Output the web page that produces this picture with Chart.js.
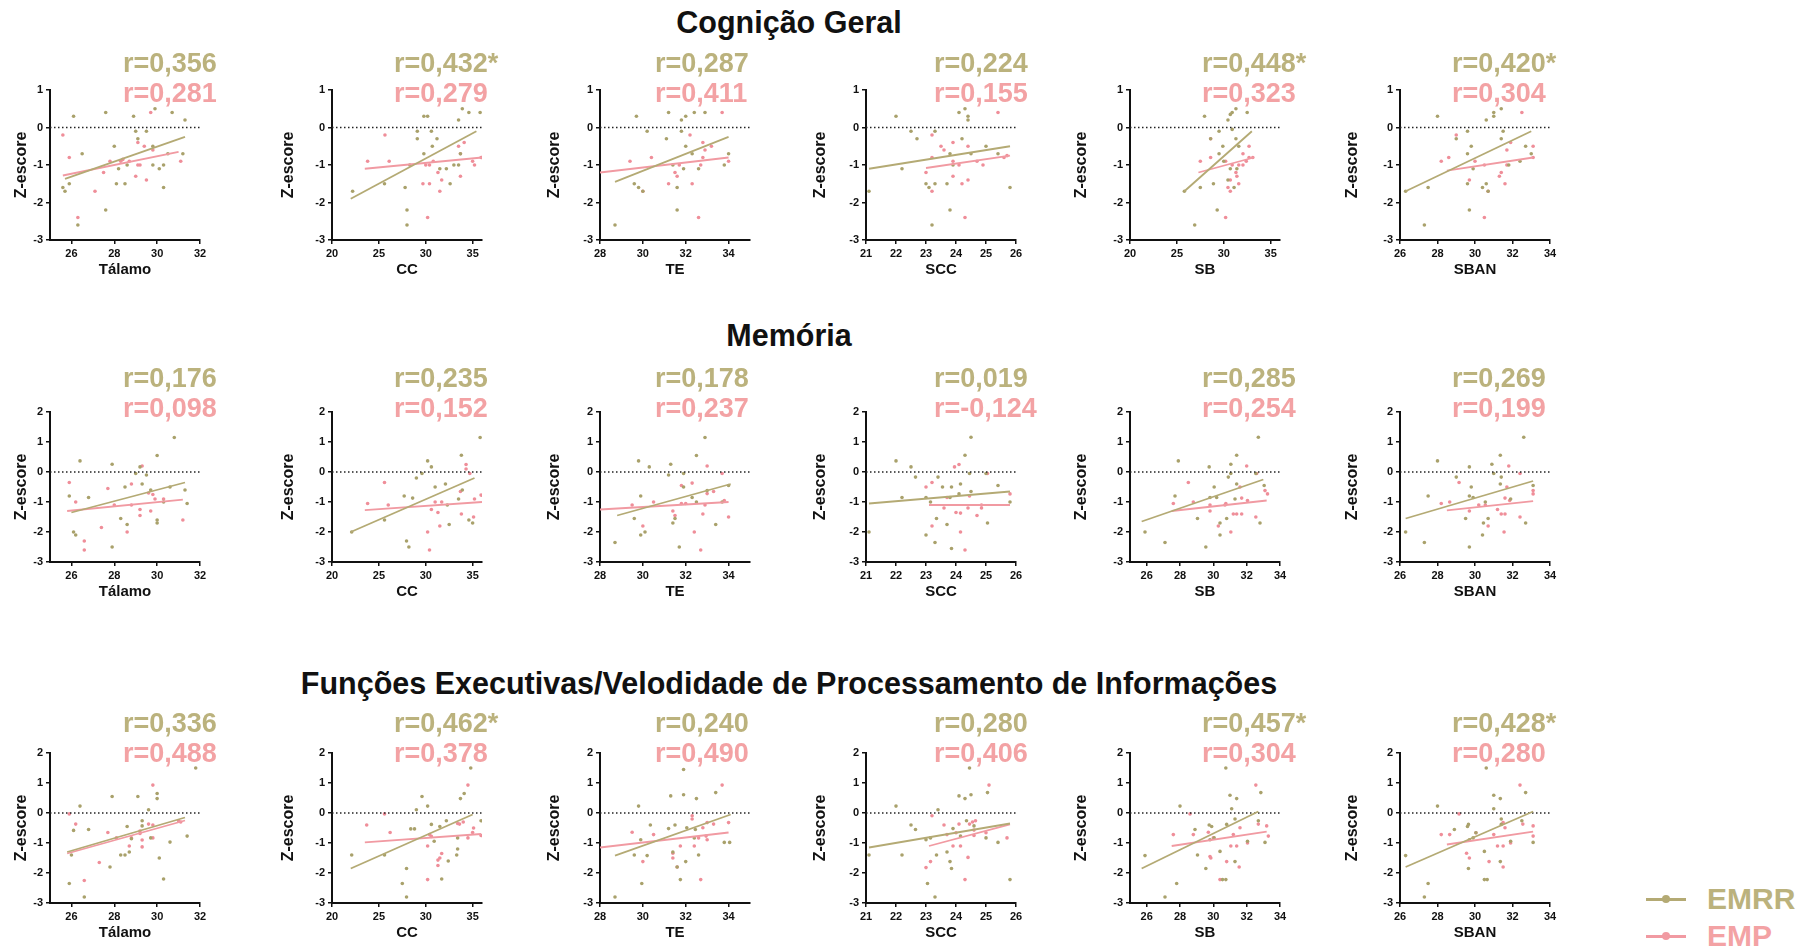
<!DOCTYPE html>
<html>
<head>
<meta charset="utf-8">
<script src="https://cdn.jsdelivr.net/npm/chart.js@4.4.0/dist/chart.umd.min.js"></script>
<style>
body { margin: 0; background: #fff; width: 1811px; height: 947px; position: relative; overflow: hidden;
       font-family: "Liberation Sans", Arial, sans-serif; }
canvas { position: absolute; }
.row-title { position: absolute; left: 0; width: 1578px; text-align: center; font-weight: bold;
             font-size: 30.5px; line-height: 32px; color: #111; }
.leg { position: absolute; left: 1646px; height: 36px; display: flex; align-items: center; }
.leg .mk { position: relative; width: 40px; height: 3px; margin-right: 21px; }
.leg .mk::after { content: ""; position: absolute; left: 16px; top: -2.5px; width: 8px; height: 8px;
                  border-radius: 50%; background: inherit; }
.leg .txt { font-size: 30px; line-height: 36px; font-weight: bold; }
</style>
</head>
<body>
<div class="row-title" style="top:6px">Cognição Geral</div>
<div class="row-title" style="top:319px">Memória</div>
<div class="row-title" style="top:667px">Funções Executivas/Velodidade de Processamento de Informações</div>

<div class="leg" style="top:881px"><span class="mk" style="background:#b4aa74"></span><span class="txt" style="color:#bbb27d">EMRR</span></div>
<div class="leg" style="top:918px"><span class="mk" style="background:#f19aa2"></span><span class="txt" style="color:#f3a2a4">EMP</span></div>

<script>
// ---- data ----
const regions = ['Tálamo', 'CC', 'TE', 'SCC', 'SB', 'SBAN'];

const xMin = [[25, 20, 28, 21, 20, 26], [25, 20, 28, 21, 25, 26], [25, 20, 28, 21, 25, 26]];
const xMax = [[32, 36, 35, 26, 36, 34], [32, 36, 35, 26, 34, 34], [32, 36, 35, 26, 34, 34]];
const xTicks = [
  [[26, 28, 30, 32], [20, 25, 30, 35], [28, 30, 32, 34], [21, 22, 23, 24, 25, 26], [20, 25, 30, 35], [26, 28, 30, 32, 34]],
  [[26, 28, 30, 32], [20, 25, 30, 35], [28, 30, 32, 34], [21, 22, 23, 24, 25, 26], [26, 28, 30, 32, 34], [26, 28, 30, 32, 34]],
  [[26, 28, 30, 32], [20, 25, 30, 35], [28, 30, 32, 34], [21, 22, 23, 24, 25, 26], [26, 28, 30, 32, 34], [26, 28, 30, 32, 34]]
];
const yTicks = [[-3, -2, -1, 0, 1], [-3, -2, -1, 0, 1, 2], [-3, -2, -1, 0, 1, 2]];

const rEMRR = [
  ['r=0,356', 'r=0,432*', 'r=0,287', 'r=0,224', 'r=0,448*', 'r=0,420*'],
  ['r=0,176', 'r=0,235', 'r=0,178', 'r=0,019', 'r=0,285', 'r=0,269'],
  ['r=0,336', 'r=0,462*', 'r=0,240', 'r=0,280', 'r=0,457*', 'r=0,428*']
];
const rEMP = [
  ['r=0,281', 'r=0,279', 'r=0,411', 'r=0,155', 'r=0,323', 'r=0,304'],
  ['r=0,098', 'r=0,152', 'r=0,237', 'r=-0,124', 'r=0,254', 'r=0,199'],
  ['r=0,488', 'r=0,378', 'r=0,490', 'r=0,406', 'r=0,304', 'r=0,280']
];

// regression lines: [x0, y0, x1, y1]
const fitEMRR = [
  [[25.7, -1.37, 31.3, -0.25], [22, -1.9, 35.4, -0.1], [28.7, -1.45, 34, -0.25], [21.1, -1.1, 25.8, -0.5], [25.8, -1.7, 33, -0.1], [26.3, -1.7, 33, -0.1]],
  [[26, -1.35, 31.3, -0.35], [22, -2, 35.2, -0.2], [28.8, -1.45, 34.1, -0.4], [21.1, -1.05, 25.8, -0.65], [25.7, -1.65, 33, -0.25], [26.3, -1.55, 33.1, -0.3]],
  [[25.8, -1.3, 31.3, -0.15], [22, -1.85, 35, -0.05], [28.7, -1.42, 34.1, -0.05], [21.1, -1.15, 25.8, -0.35], [25.7, -1.85, 32.7, 0.05], [26.3, -1.8, 33.1, 0.05]]
];
const fitEMP = [
  [[25.6, -1.28, 31, -0.65], [23.5, -1.1, 36, -0.8], [28, -1.2, 34, -0.8], [23, -1.08, 25.8, -0.75], [27.3, -1.2, 33.2, -0.8], [28.5, -1.15, 33.1, -0.8]],
  [[25.8, -1.3, 31.2, -0.92], [23.5, -1.27, 36, -1], [28, -1.25, 34, -1], [23.1, -1.1, 25.8, -1.1], [27.5, -1.3, 33.2, -0.95], [28.5, -1.28, 33.1, -0.97]],
  [[25.8, -1.35, 31.3, -0.25], [23.5, -0.98, 35.9, -0.7], [28, -1.15, 34, -0.65], [23.1, -1.1, 25.8, -0.38], [27.5, -1.1, 33.2, -0.62], [28.5, -1.05, 33.1, -0.62]]
];

// Cognição Geral
const cogEMRR = [
  [[26.1,0.3],[27.6,0.4],[28.9,0.3],[29.9,0.5],[30.7,0.4],[31.3,0.2],[29.0,-0.1],[29.5,-0.1],[29.1,-0.3],[28.0,-0.5],[26.5,-0.7],[29.8,-0.5],[30.5,-0.7],[31.2,-0.7],[25.6,-1.6],[25.7,-1.7],[25.9,-1.5],[28.2,-1.1],[28.6,-1.0],[28.1,-1.5],[28.5,-1.5],[27.6,-2.2],[26.3,-2.6],[30.1,-1.1],[29.8,-1.0],[30.3,-1.0],[30.3,-1.6]],
  [[22.2,-1.7],[25.6,-1.5],[29.8,0.3],[30.2,0.3],[29.1,-0.1],[29.1,-0.3],[30.6,-0.1],[30.7,-0.5],[31.2,-0.3],[33.5,0.2],[33.9,0.5],[34.6,0.4],[35.8,0.4],[28.3,-1.0],[27.8,-1.6],[28.0,-2.2],[28.0,-2.6],[29.8,-0.7],[32.2,-1.1],[32.6,-1.5],[33.5,-1.0],[33.0,-1.0],[31.5,-1.1],[33.7,-0.7]],
  [[29.7,0.3],[30.2,-0.1],[31.2,0.4],[31.1,-0.3],[31.8,0.2],[31.8,-0.1],[32.4,0.4],[32.9,0.4],[32.0,-0.5],[32.3,-0.7],[32.6,-1.1],[31.9,-1.1],[31.4,-1.0],[29.6,-1.5],[29.8,-1.6],[30.0,-1.7],[31.6,-1.6],[31.6,-2.2],[28.7,-2.6],[34.0,-0.7],[33.8,-1.0],[32.0,0.3]],
  [[21.1,-1.7],[22.0,0.3],[22.5,-0.1],[22.7,-0.3],[22.2,-1.1],[23.0,-1.5],[23.1,-1.6],[23.3,-1.5],[23.2,-2.6],[23.3,-0.1],[23.7,-1.5],[23.8,-0.7],[23.9,-1.0],[23.8,-2.2],[24.1,0.4],[24.3,0.5],[24.4,0.3],[24.4,0.2],[24.2,-0.3],[24.5,-0.7],[25.0,-0.5],[25.8,-1.6],[25.4,-0.7]],
  [[27.95,0.3],[30.45,0.2],[30.7,0.35],[30.9,0.4],[31.3,0.5],[32.5,0.4],[29.5,-0.1],[30.9,-0.05],[28.6,-0.3],[29.9,-0.5],[31.3,-0.3],[31.6,-0.5],[29.5,-0.7],[30.0,-0.9],[30.7,-1.1],[28.9,-1.5],[27.5,-1.6],[25.8,-1.7],[29.3,-2.2],[26.9,-2.6],[31.4,-1.1],[30.45,-1.4],[31.1,-1.6]],
  [[26.3,-1.7],[27.5,-1.6],[27.3,-2.6],[28.0,0.3],[29.0,-0.3],[29.6,-0.1],[29.8,-0.5],[29.6,-0.7],[29.9,-1.1],[29.6,-1.5],[29.7,-2.2],[30.6,0.2],[31.0,0.3],[31.0,0.4],[31.4,0.5],[31.5,-0.1],[31.4,-0.3],[30.6,-1.5],[30.4,-1.6],[30.7,-1.7],[31.8,-1.0],[32.4,-0.9],[32.7,-0.5],[33.0,-0.7]]
];
const cogEMP = [
  [[25.6,-0.2],[25.9,-0.8],[27.1,-1.7],[26.3,-2.4],[27.5,-1.2],[27.8,-0.9],[28.3,-0.9],[29.1,-0.4],[29.1,-1.0],[29.0,-1.3],[29.5,-1.4],[29.8,-0.6],[29.4,-0.5],[29.7,0.4],[31.1,-0.9],[28.7,-0.9],[29.2,-1.0],[28.4,-0.85]],
  [[23.8,-0.9],[25.65,-0.2],[26.1,-0.9],[30.0,-1.0],[30.4,-1.0],[30.4,-1.5],[31.3,-1.2],[31.5,-1.7],[31.7,-1.4],[30.2,-2.4],[33.5,-0.5],[33.7,-0.7],[33.7,-1.3],[35.0,-0.9],[35.2,-1.0],[35.9,-0.8],[34.1,-0.4],[30.8,-0.9],[29.7,-1.5]],
  [[29.4,-0.9],[30.4,-0.8],[32.2,-0.2],[32.8,-0.4],[32.9,-0.6],[32.8,-0.8],[33.2,-0.5],[32.7,-1.0],[31.5,-1.2],[31.6,-1.3],[31.2,-1.5],[32.3,-1.5],[32.6,-2.4],[33.7,0.4],[34.0,-0.9],[30.0,-1.7],[31.7,-1.0]],
  [[23.2,-0.2],[23.5,-0.5],[23.6,-0.6],[23.0,-1.2],[23.2,-0.8],[23.2,-1.7],[23.9,-0.4],[23.9,-0.9],[24.1,-1.0],[23.9,-1.3],[24.2,-1.5],[24.4,-1.4],[24.3,-2.4],[24.4,-0.5],[24.7,-0.9],[24.9,-1.0],[25.4,0.4],[25.6,-0.8],[25.7,-0.75]],
  [[28.6,-0.3],[27.5,-0.9],[28.6,-0.8],[30.2,-0.9],[30.9,-1.0],[31.6,-1.0],[30.7,-1.4],[31.6,-1.5],[30.45,-1.6],[30.7,-1.7],[31.4,-1.3],[32.05,-0.7],[32.4,-0.9],[32.7,-0.5],[32.7,-0.8],[33.1,-0.8],[30.2,-2.4],[32.05,-1.0],[31.3,-1.2]],
  [[28.2,-0.9],[28.6,-0.8],[29.0,-0.2],[30.0,-0.9],[29.7,-1.4],[30.5,-1.0],[30.7,-1.7],[30.5,-2.4],[31.4,-1.2],[31.3,-1.3],[31.6,-1.5],[31.7,-1.0],[31.9,-0.4],[32.5,0.4],[33.1,-0.5],[33.1,-0.8],[31.7,-0.6]]
];

// Memória
const memEMRR = [
  [[25.9,-0.8],[26.1,-2.0],[26.2,-2.1],[26.4,0.37],[26.8,-0.85],[27.9,0.26],[28.3,-1.55],[27.9,-2.5],[28.5,-0.5],[28.6,-1.75],[29.0,-0.05],[29.2,0.17],[29.3,-0.4],[29.5,-0.1],[30.0,0.55],[29.7,-0.6],[30.0,-1.6],[30.0,-1.7],[30.3,-1.0],[30.8,1.15],[30.6,-0.5],[31.3,-0.6],[31.4,-1.05]],
  [[22.1,-2.0],[25.6,-1.6],[27.7,-0.8],[27.95,-2.3],[28.2,-2.5],[28.6,-0.87],[29.0,-0.2],[29.6,-0.05],[30.2,0.37],[30.6,0.17],[31.0,-0.5],[32.1,-0.4],[32.3,-1.1],[32.5,-1.75],[33.8,0.56],[33.9,-0.6],[34.6,-1.6],[35.0,-1.7],[35.8,1.15],[33.5,-0.9]],
  [[28.7,-2.35],[29.8,0.37],[29.9,-0.8],[29.9,-2.1],[30.1,-2.0],[30.3,0.17],[29.6,-1.55],[31.2,-0.1],[31.3,0.26],[31.4,-1.7],[31.5,-1.55],[31.7,-2.5],[31.9,-0.05],[31.9,-0.5],[32.5,0.55],[32.9,1.15],[32.3,-0.85],[32.5,-1.0],[33.0,-0.62],[33.4,-1.75],[34.0,-0.45],[33.7,-1.0]],
  [[21.1,-2.0],[22.0,0.37],[22.2,-0.85],[22.5,0.17],[22.65,-0.17],[23.0,-0.85],[23.0,-2.1],[23.15,-1.0],[23.3,-2.35],[23.35,-1.55],[23.4,-0.17],[23.55,-0.5],[23.7,-1.75],[23.8,-0.85],[23.85,-0.5],[23.85,-2.55],[24.3,0.56],[24.1,-0.73],[24.15,-0.4],[24.5,1.16],[24.45,-0.05],[24.5,-0.65],[25.0,-0.05],[25.05,-1.7],[25.4,-0.45],[25.8,-1.0]],
  [[25.9,-2.0],[27.1,-2.35],[27.9,0.37],[27.7,-0.8],[29.05,-1.55],[29.55,-2.5],[29.75,0.17],[29.8,-0.85],[30.05,-0.5],[30.2,-0.85],[30.4,-1.7],[30.4,-2.1],[30.8,-1.55],[30.9,-0.17],[31.05,0.26],[31.05,-0.05],[31.4,0.56],[31.4,-0.4],[32.7,1.16],[32.55,-0.05],[32.8,-1.7],[33.05,-0.45],[31.3,-0.9]],
  [[26.3,-2.0],[27.3,-2.35],[27.5,-0.8],[28.0,0.37],[29.0,-0.17],[29.5,-1.55],[29.7,0.17],[29.7,-2.5],[29.7,-0.8],[29.8,-0.5],[29.9,-0.85],[30.4,-2.1],[30.45,-1.7],[30.55,-1.0],[30.7,-1.55],[30.9,0.26],[31.0,-0.05],[31.35,0.56],[31.4,-0.17],[31.35,-0.4],[32.6,1.16],[32.7,-1.7],[33.1,-0.45],[31.9,-0.9]]
];
const memEMP = [
  [[25.9,-0.35],[26.2,-1.0],[26.6,-2.3],[26.6,-2.6],[27.4,-1.85],[27.7,-0.55],[28.0,-1.1],[28.6,-2.0],[28.8,-1.1],[29.2,-1.25],[29.2,-1.45],[29.3,0.2],[29.6,-0.7],[29.7,-1.3],[29.8,-0.75],[29.9,-0.9],[30.3,-0.9],[31.2,-1.6],[28.8,-0.4]],
  [[23.8,-1.05],[25.6,-0.35],[26.0,-1.1],[30.2,-2.0],[30.4,-2.6],[30.6,-1.25],[31.0,-1.0],[31.3,-1.35],[31.5,-1.8],[31.7,-1.0],[33.7,-0.65],[33.8,-1.4],[34.3,0.25],[34.3,0.1],[34.7,-0.05],[35.1,-1.5],[35.9,-0.77],[35.2,-0.9]],
  [[29.5,-1.1],[30.0,-1.8],[30.5,-1.0],[31.4,-1.3],[31.5,-1.45],[31.8,-0.45],[31.8,-1.05],[32.0,-1.05],[32.3,-0.37],[32.4,-2.0],[32.7,-2.6],[32.8,-1.4],[32.9,-1.1],[33.0,0.2],[33.0,-0.72],[33.3,-0.65],[33.7,-0.05],[34.0,-1.5],[33.8,-0.95]],
  [[23.0,-0.5],[23.2,-0.35],[23.2,-1.8],[23.6,-1.2],[23.7,-0.85],[23.95,0.17],[24.1,0.25],[24.0,-1.35],[24.15,-1.37],[24.15,-2.0],[24.3,-2.6],[24.4,-1.2],[24.45,-0.8],[24.7,-1.45],[24.85,-1.2],[24.85,-1.1],[25.05,-0.05],[25.8,-0.73]],
  [[27.6,-1.05],[28.5,-0.35],[28.8,-1.0],[29.8,-1.3],[29.8,-1.1],[30.75,-1.05],[30.7,-1.1],[30.3,-1.8],[31.05,-2.0],[31.2,-1.4],[31.4,-1.4],[31.7,-1.4],[31.7,-0.87],[32.0,0.2],[32.05,-0.95],[32.55,-1.5],[32.6,-0.05],[33.1,-0.62],[33.25,-0.73],[31.6,-0.5]],
  [[28.2,-1.05],[28.65,-1.0],[29.15,-0.35],[29.7,-1.3],[30.2,-1.1],[30.55,-1.1],[30.7,-1.8],[31.55,-2.0],[31.4,-1.4],[31.6,-1.4],[31.2,-1.25],[31.6,-0.87],[31.8,0.2],[31.85,-0.95],[32.4,-1.5],[32.4,-0.05],[33.1,-0.62],[33.1,-0.73],[31.7,-0.5]]
];

// Funções Executivas / Velocidade de Processamento
const fexEMRR = [
  [[25.9,-2.35],[26.0,-1.4],[26.1,-0.58],[26.4,0.23],[26.6,-2.8],[26.8,-0.55],[27.9,0.55],[27.8,-1.8],[28.3,-1.4],[28.5,-1.4],[28.6,-0.45],[28.7,-1.3],[28.8,-0.86],[29.1,0.55],[29.3,-0.26],[29.3,-0.43],[29.6,0.11],[29.7,-0.83],[30.0,0.65],[30.0,0.48],[30.1,-1.5],[30.6,-0.97],[30.3,-2.2],[31.4,-0.77],[31.8,1.5]],
  [[22.1,-1.4],[25.6,-1.4],[27.5,-2.35],[27.95,-2.8],[27.95,-1.85],[28.4,-0.53],[28.8,-0.53],[29.0,0.11],[29.6,0.55],[30.2,0.23],[30.6,-0.38],[31.5,-0.45],[30.9,-0.94],[31.7,-2.2],[32.2,-0.26],[32.4,-1.6],[33.3,-1.4],[33.4,-1.2],[33.7,0.48],[34.1,0.65],[34.8,1.5],[33.4,-0.83],[35.9,-0.26]],
  [[28.7,-2.8],[29.8,0.23],[29.9,-0.89],[29.95,-2.35],[30.2,-1.42],[30.35,-0.4],[29.6,-1.4],[31.3,0.57],[31.2,-0.52],[31.4,-1.3],[31.5,-0.4],[31.6,-1.8],[31.75,-2.22],[31.9,0.61],[31.9,1.45],[32.0,-1.62],[32.05,-0.49],[32.45,-0.55],[32.5,0.48],[32.6,-1.4],[32.4,-0.83],[33.4,0.68],[33.8,-0.98],[34.05,-0.98]],
  [[21.1,-1.4],[22.0,0.23],[22.2,-1.4],[22.5,-0.4],[22.65,-0.55],[23.0,-0.89],[23.05,-2.35],[23.15,-0.83],[23.3,-2.8],[23.35,-1.4],[23.4,0.11],[23.7,-1.3],[23.8,-1.62],[23.85,-1.85],[23.9,-0.52],[24.1,0.57],[24.3,0.48],[24.15,-0.77],[24.35,-0.26],[24.45,1.5],[24.5,0.61],[25.0,-0.83],[25.05,0.68],[25.4,-0.98],[25.8,-2.22],[24.6,-0.43]],
  [[25.9,-1.42],[27.1,-2.8],[27.8,-2.35],[28.0,0.23],[28.9,-0.55],[29.05,-1.4],[29.55,-1.85],[29.75,-0.4],[29.8,-0.89],[29.9,-0.45],[30.05,-0.83],[30.4,-1.28],[30.55,-2.22],[30.75,-2.22],[30.8,-0.38],[31.0,0.59],[31.1,0.14],[31.3,-1.62],[31.4,0.48],[31.3,-0.2],[30.75,1.5],[32.05,-0.94],[32.7,-0.26],[32.85,0.68],[33.1,-0.98]],
  [[26.3,-1.42],[27.3,-2.8],[27.5,-2.35],[28.0,0.23],[28.9,-0.55],[29.6,-0.45],[29.65,-0.38],[29.65,-1.85],[29.7,-0.89],[29.9,-0.83],[30.05,-0.66],[30.5,-1.28],[30.5,-2.22],[30.65,-2.22],[30.6,1.5],[31.0,0.59],[31.0,0.14],[31.35,0.48],[31.35,-1.62],[31.4,-0.2],[31.4,-0.38],[31.9,-0.94],[32.7,0.68],[33.1,-0.98],[32.5,-0.26]]
];
const fexEMP = [
  [[25.9,-0.03],[26.2,-0.37],[26.6,-2.25],[27.3,-1.65],[27.7,-0.65],[28.1,-0.83],[28.7,-1.1],[28.8,-0.83],[29.2,-0.6],[29.2,-0.68],[29.3,-0.9],[29.6,-0.37],[29.8,0.93],[29.8,-0.83],[29.3,-1.13],[29.8,-0.4],[31.1,-0.3],[31.0,-0.26]],
  [[23.7,-0.4],[25.6,-0.03],[26.2,-0.65],[30.2,-1.1],[30.2,-2.22],[30.4,-0.72],[30.6,-0.78],[31.3,-1.57],[31.3,-1.75],[31.5,-1.5],[31.7,-1.35],[33.4,-0.35],[34.0,-0.3],[34.5,0.93],[34.5,-0.83],[35.0,-0.65],[35.1,-0.5],[35.9,-0.75],[33.6,-0.37]],
  [[29.5,-0.64],[30.0,-1.62],[30.5,-0.72],[31.4,-1.34],[31.4,-1.5],[31.75,-1.1],[31.6,-1.8],[32.3,-0.09],[32.3,-0.2],[32.4,-1.1],[32.7,-2.22],[32.8,-0.49],[32.95,-0.77],[33.0,-0.89],[33.0,-0.32],[33.3,-0.37],[33.7,0.93],[34.0,-0.32],[32.6,-0.83]],
  [[23.0,-1.82],[23.15,-1.62],[23.2,-0.09],[23.6,-0.4],[23.7,-0.72],[23.9,-1.1],[24.0,-0.66],[24.1,-0.37],[24.15,-1.1],[24.3,-2.22],[24.4,-1.48],[24.45,-0.37],[24.55,-0.3],[24.6,-0.75],[24.65,-0.26],[25.0,-0.66],[25.1,0.93],[25.7,-0.83],[24.6,-0.57]],
  [[27.6,-0.72],[28.6,-0.03],[28.8,-0.72],[29.7,-0.64],[29.8,-1.45],[29.85,-1.5],[30.0,-0.83],[30.4,-2.22],[30.8,-1.62],[31.05,-1.1],[31.2,-0.72],[31.4,-1.1],[31.55,-1.8],[31.6,-0.49],[32.05,-1.0],[32.55,0.93],[32.7,-0.37],[33.2,-0.43],[33.3,-0.77]],
  [[28.2,-0.72],[28.65,-0.72],[29.15,-0.03],[29.55,-1.34],[29.7,-1.5],[30.05,-0.66],[30.75,-1.62],[31.0,-0.72],[31.2,-1.1],[31.5,-1.1],[31.5,-1.8],[31.6,-0.49],[31.9,-1.0],[32.4,0.93],[32.55,-0.37],[33.1,-0.43],[33.1,-0.77],[31.5,-0.32]]
];

// ---- layout & style ----
const colLeft = [50, 332, 600, 866, 1130, 1400];   // left edge of each plot area
const rowTop = [90, 412, 753];                     // top edge of each plot area
const yTitleGap = [28, 43, 45, 45, 48, 47];        // axis to centre of "Z-escore"
const labelDx = [73, 62, 55, 68, 72, 52];
const labelDy = [-25, -32, -28];
const yBox = 60;

const olive = { text: '#bbb27d', line: '#b4aa74', dot: '#a9a16b' };
const pink = { text: '#f3a2a4', line: '#f19aa2', dot: '#ef8e99' };
const ink = '#111';

Chart.defaults.font.family = '"Liberation Sans", Arial, sans-serif';

const rLabels = {
  id: 'rLabels',
  afterDraw(chart, args, opts) {
    const { ctx, chartArea } = chart;
    ctx.save();
    ctx.font = 'bold 27px "Liberation Sans", Arial, sans-serif';
    ctx.textBaseline = 'middle';
    ctx.fillStyle = olive.text;
    ctx.fillText(opts.a, chartArea.left + opts.dx, chartArea.top + opts.dy);
    ctx.fillStyle = pink.text;
    ctx.fillText(opts.b, chartArea.left + opts.dx, chartArea.top + opts.dy + 30);
    ctx.restore();
  }
};

const groups = [[cogEMRR, cogEMP], [memEMRR, memEMP], [fexEMRR, fexEMP]];
const pts = arr => arr.map(p => ({ x: p[0], y: p[1] }));
const seg = f => [{ x: f[0], y: f[1] }, { x: f[2], y: f[3] }];

for (let r = 0; r < 3; r++) {
  for (let c = 0; c < 6; c++) {
    const cv = document.createElement('canvas');
    cv.width = yBox + 150 + 45; cv.height = 240;
    cv.style.left = (colLeft[c] - yBox) + 'px';
    cv.style.top = (rowTop[r] - 45) + 'px';
    document.body.appendChild(cv);

    new Chart(cv, {
      type: 'scatter',
      data: {
        datasets: [
          { data: seg(fitEMRR[r][c]), showLine: true, borderColor: olive.line, borderWidth: 1.8, pointRadius: 0 },
          { data: seg(fitEMP[r][c]), showLine: true, borderColor: pink.line, borderWidth: 1.8, pointRadius: 0 },
          { data: [{ x: xMin[r][c], y: 0 }, { x: xMax[r][c], y: 0 }], showLine: true, borderColor: '#222',
            borderWidth: 1.5, borderDash: [1.5, 2.5], pointRadius: 0 },
          { data: pts(groups[r][0][c]), pointRadius: 1.8, backgroundColor: olive.dot, borderWidth: 0 },
          { data: pts(groups[r][1][c]), pointRadius: 1.8, backgroundColor: pink.dot, borderWidth: 0 }
        ]
      },
      options: {
        responsive: false,
        animation: false,
        events: [],
        layout: { padding: { left: 0, top: 45, right: 45, bottom: 0 } },
        plugins: {
          legend: { display: false },
          tooltip: { enabled: false },
          rLabels: { a: rEMRR[r][c], b: rEMP[r][c], dx: labelDx[c], dy: labelDy[r] }
        },
        scales: {
          x: {
            type: 'linear', min: xMin[r][c], max: xMax[r][c],
            afterBuildTicks: s => { s.ticks = xTicks[r][c].map(v => ({ value: v })); },
            afterFit: s => { s.height = 45; },
            grid: { drawOnChartArea: false, tickLength: 4, color: ink, lineWidth: 1.5 },
            border: { color: ink, width: 2 },
            ticks: { color: ink, font: { size: 11, weight: 'bold' }, padding: 3, maxRotation: 0, autoSkip: false },
            title: { display: true, text: regions[c], color: ink, font: { size: 15, weight: 'bold' }, padding: { top: 0, bottom: 6 } }
          },
          y: {
            min: -3, max: yTicks[r][yTicks[r].length - 1],
            afterBuildTicks: s => { s.ticks = yTicks[r].map(v => ({ value: v })); },
            afterFit: s => { s.width = yBox; },
            grid: { drawOnChartArea: false, tickLength: 4, color: ink, lineWidth: 1.5 },
            border: { color: ink, width: 2 },
            ticks: { color: ink, font: { size: 11, weight: 'bold' }, padding: 3 },
            title: { display: true, text: 'Z-escore', color: ink, font: { size: 16, weight: 'bold' },
                     padding: { top: yBox - yTitleGap[c] - 9.6, bottom: 0 } }
          }
        }
      },
      plugins: [rLabels]
    });
  }
}
</script>
</body>
</html>
